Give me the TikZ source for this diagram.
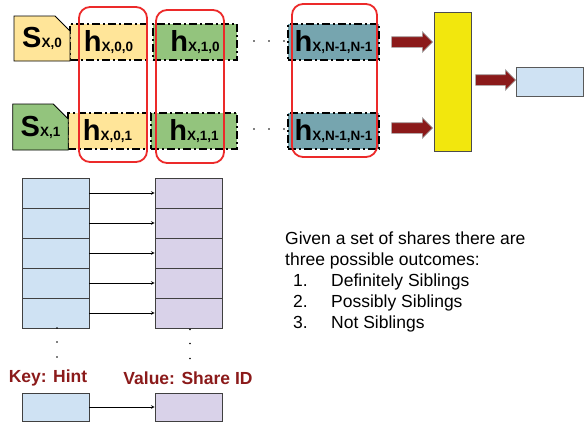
\documentclass[tikz,border=0pt]{standalone}
\usepackage{fontspec}
\setmainfont{Liberation Sans}
\usetikzlibrary{shapes.misc,shapes.arrows}

\definecolor{shareyellow}{HTML}{FFE599}
\definecolor{sharegreen}{HTML}{93C47D}
\definecolor{shareteal}{HTML}{76A5AF}
\definecolor{keyblue}{HTML}{CFE2F3}
\definecolor{vallilac}{HTML}{D9D2E9}
\definecolor{darkred}{HTML}{8B1A1A}
\definecolor{hashyellow}{HTML}{F2E70D}
\definecolor{groupred}{HTML}{EC2A2A}

\newcommand{\hlab}[1]{{\bfseries\fontsize{29}{29}\selectfont h\fontsize{13.5}{13.5}\selectfont #1}}
\newcommand{\slab}[1]{{\bfseries\fontsize{29}{29}\selectfont S\fontsize{13.5}{13.5}\selectfont #1}}

\tikzset{
  hbox/.style={draw=black, line width=2pt,
    dash pattern=on 8pt off 3pt on 2pt off 3pt,
    minimum height=36pt, inner sep=0pt},
  sharebox/.style={chamfered rectangle, chamfered rectangle corners=north east,
    chamfered rectangle xsep=8pt, chamfered rectangle ysep=7pt,
    draw=black, line width=0.8pt, inner sep=0pt},
  group/.style={draw=groupred, line width=1.8pt, rounded corners=11pt, inner sep=0pt},
  blockarrow/.style={single arrow, single arrow head extend=5pt,
    fill=darkred, draw=gray!70, line width=0.6pt, inner sep=5pt, minimum width=20pt},
  keycell/.style={fill=keyblue, draw=black!75, line width=0.8pt,
    minimum width=67pt, minimum height=30pt, inner sep=0pt},
  valcell/.style={keycell, fill=vallilac},
  link/.style={->, line width=0.6pt},
  coltitle/.style={font=\bfseries\fontsize{17.5}{21}\selectfont, text=darkred},
}

\begin{document}
\begin{tikzpicture}[x=1pt, y=-1pt, >=stealth]
  \useasboundingbox (0,0) rectangle (585,424);
  \def\rowA{42}
  \def\rowB{131}

  % ----- hashes of the two shares -----
  \node[hbox, fill=shareyellow, minimum width=77pt] (h00) at (108.5,\rowA) {\hlab{X,0,0}};
  \node[hbox, fill=sharegreen,  minimum width=84pt] (h10) at (195,\rowA)   {\hlab{X,1,0}};
  \node[hbox, fill=shareteal,   minimum width=91pt] (hN0) at (333.5,\rowA) {\hlab{X,N-1,N-1}};
  \node[hbox, fill=shareyellow, minimum width=79pt] (h01) at (107.5,\rowB) {\hlab{X,0,1}};
  \node[hbox, fill=sharegreen,  minimum width=86pt] (h11) at (194,\rowB)   {\hlab{X,1,1}};
  \node[hbox, fill=shareteal,   minimum width=91pt] (hN1) at (333.5,\rowB) {\hlab{X,N-1,N-1}};
  \foreach \x in {254,269,284} {
    \fill (\x,\rowA-1) circle (0.8);
    \fill (\x,\rowB-2) circle (0.8);
  }

  \node[sharebox, fill=shareyellow, minimum width=56pt, minimum height=45pt] (s0) at (42,38.5) {\slab{X,0}};
  \node[sharebox, fill=sharegreen,  minimum width=55pt, minimum height=46pt] (s1) at (40.5,127) {\slab{X,1}};

  % ----- same index across shares -----
  \node[group, minimum width=68pt, minimum height=155pt] (grp0) at (113,84.5) {};
  \node[group, minimum width=68pt, minimum height=153pt] (grp1) at (190,86.5) {};
  \node[group, minimum width=85pt, minimum height=153pt] (grpN) at (334.5,80.5) {};

  % ----- compare -----
  \node[blockarrow, minimum height=41pt] (arrA) at (409.5,\rowA) {};
  \node[blockarrow, minimum height=41pt] (arrB) at (409.5,128) {};
  \node[fill=hashyellow, draw=gray!60!black, line width=0.8pt, inner sep=0pt,
    minimum width=37pt, minimum height=139pt] (cmp) at (452.5,81.5) {};
  \node[blockarrow, minimum height=40pt] (arrC) at (493,80) {};
  \node[fill=keyblue, draw=gray!70!black, line width=0.8pt, inner sep=0pt,
    minimum width=67pt, minimum height=29pt] (res) at (549.5,81.5) {};

  % ----- hint table -----
  \foreach \i in {1,...,5} {
    \node[keycell] (k\i) at (55.5,163+30*\i) {};
    \node[valcell] (v\i) at (188.5,163+30*\i) {};
    \draw[link] (k\i) -- (v\i);
  }
  \foreach \y in {328,342,357} {
    \fill (57,\y) circle (0.8);
    \fill (190,\y+1.5) circle (0.8);
  }
  \node[coltitle] (keyhint) at (48,378) {Key: Hint};
  \node[coltitle] (valshare) at (188,378) {Value: Share ID};
  \node[keycell, minimum height=28pt] (kn) at (55.5,407) {};
  \node[valcell, minimum height=28pt] (vn) at (188.5,407) {};
  \draw[link] (kn) -- (vn);

  % ----- outcomes -----
  \node[anchor=north west, align=left, inner sep=0pt,
    font=\fontsize{17.5}{21}\selectfont] (outcomes) at (285,232)
    {Given a set of shares there are\\
     three possible outcomes:\\
     \hspace*{8pt}\makebox[38pt][l]{1.}Definitely Siblings\\
     \hspace*{8pt}\makebox[38pt][l]{2.}Possibly Siblings\\
     \hspace*{8pt}\makebox[38pt][l]{3.}Not Siblings};
\end{tikzpicture}
\end{document}
